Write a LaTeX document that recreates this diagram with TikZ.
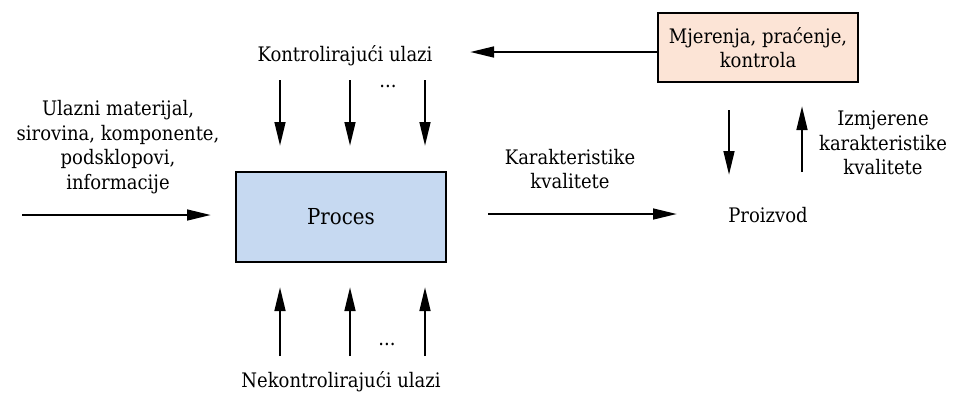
\documentclass[tikz,border=0pt]{standalone}
\usepackage{fontspec}
\setmainfont{DejaVu Serif Condensed}
\usetikzlibrary{arrows.meta,positioning}

\begin{document}
\begin{tikzpicture}[x=0.75pt,y=-0.75pt,
  box/.style={draw,line width=1.1pt,align=center,font=\fontsize{15}{18.5}\selectfont},
  arr/.style={-{Triangle[length=18pt,width=8pt]},line width=1.9pt},
  lbl/.style={align=center,font=\fontsize{15}{18.5}\selectfont,inner sep=0pt}
]
\useasboundingbox (0,0) rectangle (955,394);

\node[box,fill={rgb,255:red,198;green,217;blue,241},font=\fontsize{16.5}{20}\selectfont,
      minimum width=157.5pt,minimum height=67.5pt] (proces) at (341,217) {Proces};
\node[box,fill={rgb,255:red,252;green,228;blue,214},
      minimum width=150pt,minimum height=52pt] (mjerenje) at (758,47.5) {Mjerenja, praćenje,\\kontrola};

% feedback from measuring to the controlling inputs
\coordinate (fbend) at (470,52);
\draw[arr] (mjerenje.west |- fbend) -- (fbend);
\node[lbl] (ctrl) at (345,56) {Kontrolirajući ulazi};

% controlling inputs, from above
\foreach \x/\n in {280/a,350/b,425/c}{
  \coordinate (ct\n) at (\x,80);
  \coordinate (cb\n) at (\x,146);
  \draw[arr] (ct\n) -- (cb\n);
}
\node[lbl] (cdots) at (388,86) {...};

% uncontrolled inputs, from below
\foreach \x/\n in {280/a,350/b,425/c}{
  \coordinate (nb\n) at (\x,356);
  \coordinate (nt\n) at (\x,287);
  \draw[arr] (nb\n) -- (nt\n);
}
\node[lbl] (ndots) at (387,344) {...};
\node[lbl] (nctrl) at (341,382) {Nekontrolirajući ulazi};

% material in
\node[lbl] (ulaz) at (118,147) {Ulazni materijal,\\sirovina, komponente,\\podsklopovi,\\informacije};
\coordinate (ulazA) at (22,215);
\coordinate (ulazB) at (211,215);
\draw[arr] (ulazA) -- (ulazB);

% product out
\node[lbl] (karak) at (570,169) {Karakteristike\\kvalitete};
\coordinate (izA) at (488,214);
\coordinate (izB) at (677,214);
\draw[arr] (izA) -- (izB);
\node[lbl] (proizvod) at (768,215) {Proizvod};

% measuring loop
\coordinate (mA) at (729,110);
\coordinate (mB) at (729,175);
\draw[arr] (mA) -- (mB);
\coordinate (pA) at (802,172);
\coordinate (pB) at (802,106);
\draw[arr] (pA) -- (pB);
\node[lbl] (izmj) at (883,143) {Izmjerene\\karakteristike\\kvalitete};

\end{tikzpicture}
\end{document}
